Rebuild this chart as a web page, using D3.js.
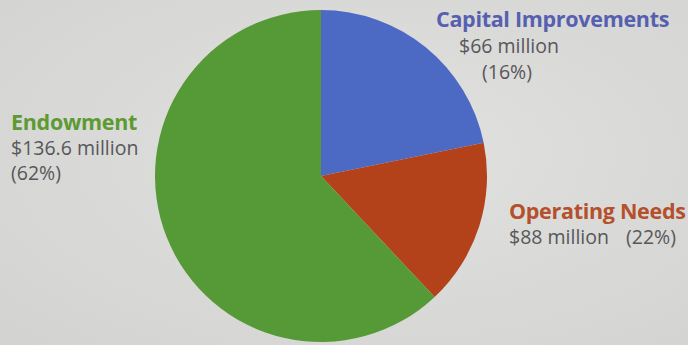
<!DOCTYPE html>
<html>
<head>
<meta charset="utf-8">
<script src="https://cdn.jsdelivr.net/npm/d3@7/dist/d3.min.js"></script>
<style>
  html, body { margin: 0; padding: 0; background: #dcdcda; }
  svg { display: block; }
</style>
</head>
<body>
<div id="chart"></div>
<script>
// slice order is clockwise from 12 o'clock, as in the picture
const categories = ["Capital Improvements", "Operating Needs", "Endowment"];
// share of the circle each slice covers (percent)
const sliceShares = [21.8, 16.2, 62];
// label texts, exactly as printed
const amountLabels = ["$66 million", "$88 million", "$136.6 million"];
const percentLabels = ["(16%)", "(22%)", "(62%)"];

const colors = ["#4c69c4", "#b3421b", "#569a38"];
const titleColors = ["#5660b0", "#b4502c", "#5d9a34"];

const w = 688, h = 345;
const cx = 321, cy = 176, r = 166;

const svg = d3.select("#chart").append("svg")
    .attr("width", w)
    .attr("height", h);

// soft photographic backdrop
const defs = svg.append("defs");
const grad = defs.append("radialGradient").attr("id", "bg")
    .attr("cx", "55%").attr("cy", "45%").attr("r", "75%");
grad.append("stop").attr("offset", "0%").attr("stop-color", "#e1e1df");
grad.append("stop").attr("offset", "100%").attr("stop-color", "#d3d3d1");
svg.append("rect").attr("width", w).attr("height", h).attr("fill", "url(#bg)");

const pie = d3.pie().sort(null).value(d => d);
const arc = d3.arc().innerRadius(0).outerRadius(r);

const g = svg.append("g").attr("transform", "translate(" + cx + "," + cy + ")");

g.selectAll("path")
    .data(pie(sliceShares))
    .enter()
    .append("path")
    .attr("d", arc)
    .attr("fill", (d, i) => colors[i]);

// LABELS
// title x, amount x, percent x, title baseline, line step, percent on same line
const labelPos = [
    { tx: 436, ax: 459, px: 482, y: 27, step: 26, inline: false },
    { tx: 509, ax: 509, px: 626, y: 219, step: 25, inline: true },
    { tx: 11, ax: 11, px: 11, y: 130, step: 25, inline: false }
];

const font = "'Open Sans', 'Noto Sans', sans-serif";

categories.forEach((c, i) => {
    const p = labelPos[i];
    const lg = svg.append("g");
    lg.append("text")
        .text(c)
        .attr("x", p.tx).attr("y", p.y)
        .style("font-family", font)
        .style("font-weight", "bold")
        .style("font-size", "21.5px")
        .style("letter-spacing", "-0.3px")
        .style("fill", titleColors[i]);

    lg.append("text")
        .text(amountLabels[i])
        .attr("x", p.ax).attr("y", p.y + p.step)
        .style("font-family", font)
        .style("font-size", "19.5px")
        .style("fill", "#57575a");

    lg.append("text")
        .text(percentLabels[i])
        .attr("x", p.px).attr("y", p.inline ? p.y + p.step : p.y + p.step * 2)
        .style("font-family", font)
        .style("font-size", "19.5px")
        .style("fill", "#57575a");
});
</script>
</body>
</html>
